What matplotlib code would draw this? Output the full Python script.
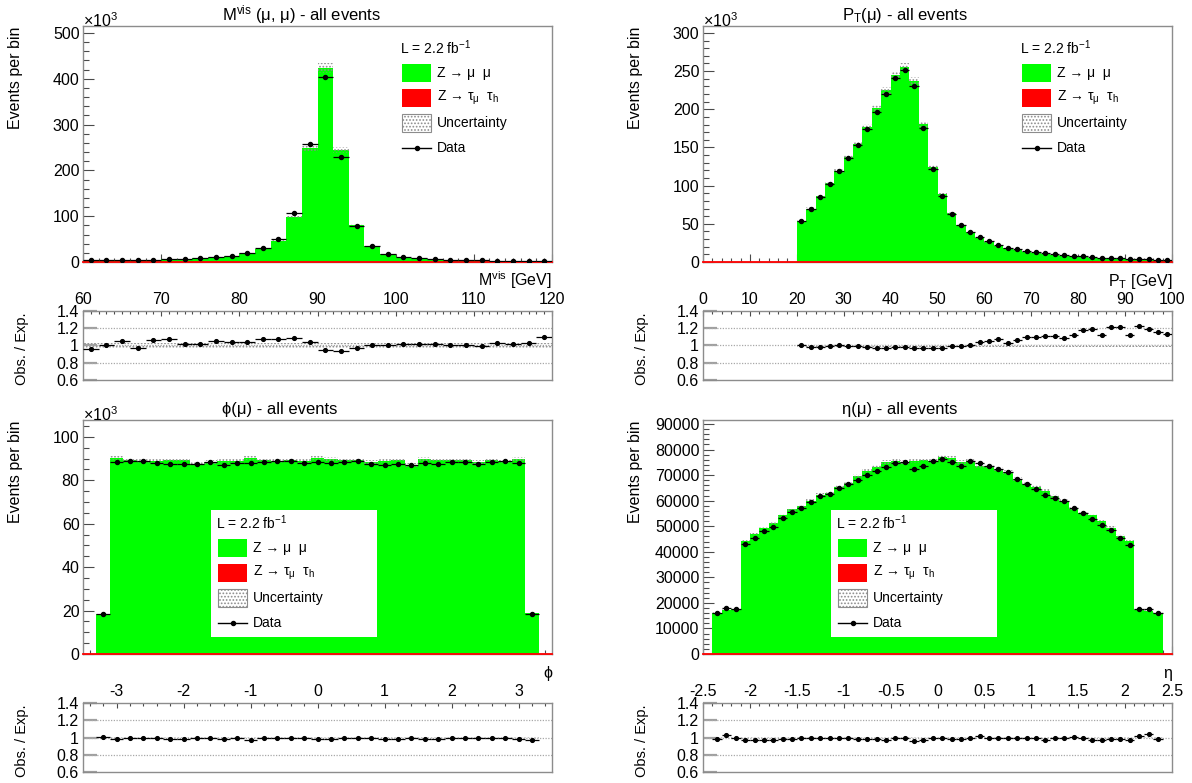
import numpy as np
import matplotlib
matplotlib.use("Agg")
import matplotlib.pyplot as plt
from matplotlib.patches import Rectangle
from matplotlib.lines import Line2D
from matplotlib.ticker import MultipleLocator, FormatStrFormatter, FuncFormatter

plt.rcParams['font.family'] = ['Liberation Sans', 'DejaVu Sans']
plt.rcParams['mathtext.fontset'] = 'custom'
plt.rcParams['mathtext.rm'] = 'Liberation Sans'
plt.rcParams['mathtext.it'] = 'Liberation Sans'
plt.rcParams['mathtext.default'] = 'regular'
plt.rcParams['hatch.color'] = '#8c8c8c'
plt.rcParams['hatch.linewidth'] = 0.8

W, H = 1192, 783

#-----Data-----#

#visible mass of the muon pair, events in thousands per 2 GeV
mass_edges = np.arange(60, 121, 2)
mass_mc = [4, 4, 5, 5, 5, 6, 6, 8, 10, 13, 19, 28, 46, 98, 248, 424, 244, 81, 34, 17,
           11, 8, 6, 5, 4, 3.5, 3, 3, 2.5, 2]
mass_data = [3.84, 4.0, 5.25, 4.85, 5.3, 6.42, 6.12, 8.16, 10.5, 13.46, 19.76, 30.24, 49.68,
             106.8, 257.9, 402.8, 228.1, 79.0, 34.0, 17.09, 11.22, 8.16, 6.12, 5.05, 4.04,
             3.47, 3.1, 3.06, 2.58, 2.2]

#muon transverse momentum, events in thousands per 2 GeV (nothing below 20 GeV)
pt_edges = np.arange(20, 101, 2)
pt_mc = [54, 70, 86, 103, 119, 137, 155, 177, 201, 225, 245, 255.5, 237, 181, 124.5, 89, 64,
         49, 39, 31, 25.8, 21, 18.3, 16.2, 13.5, 11.8, 10.9, 9.6, 8.3, 7.4, 6.6, 5.7, 5.2,
         4.8, 4.4, 3.9, 3.5, 3.1, 2.8, 2.5]
pt_data = [54.0, 68.95, 84.7, 102.0, 119.0, 135.6, 153.5, 174.3, 196.0, 219.4, 241.3, 251.7,
           229.9, 175.6, 121.4, 86.3, 63.4, 48.8, 39.4, 32.1, 27.1, 22.7, 18.8, 17.3, 14.9,
           12.9, 12.1, 10.7, 9.05, 8.29, 7.82, 6.81, 5.85, 5.83, 5.35, 4.37, 4.31, 3.69,
           3.25, 2.83]

#muon azimuth, events in thousands per 0.2
phi_edges = np.linspace(-3.3, 3.3, 34)
phi_mc = [18.2, 90.2, 89.6, 89.0, 88.8, 89.2, 89.5, 87.4, 88.4, 88.9, 88.8, 90.2, 89.3, 89.0,
          89.6, 88.8, 90.2, 90.0, 89.3, 89.6, 88.3, 88.9, 89.5, 87.0, 90.0, 89.2, 89.3, 89.3,
          88.3, 89.3, 88.7, 90.0, 18.9]
phi_data = [18.4, 88.4, 88.7, 89.0, 87.9, 87.4, 87.7, 87.4, 88.4, 87.1, 87.9, 87.9, 88.4, 89.0,
            88.7, 87.9, 88.4, 88.2, 88.4, 88.7, 87.4, 87.1, 87.7, 87.0, 88.2, 87.4, 88.4,
            88.4, 87.4, 88.4, 88.7, 88.2, 18.4]

#muon pseudorapidity, events per 0.1
eta_edges = np.linspace(-2.4, 2.4, 49)
eta_mc = [16100, 17400, 17600, 44300, 46800, 49300, 51300, 54300, 56700, 57900, 59900, 62300,
          63100, 65400, 66900, 69600, 71600, 73100, 75100, 75500, 75000, 75500, 76000, 75600,
          77000, 76800, 75200, 75400, 73600, 73700, 72400, 71100, 68500, 66600, 65300, 63800,
          61800, 59900, 56800, 55000, 54400, 51900, 49400, 46300, 44100, 17300, 16900, 16200]
eta_data = [15900, 17900, 17600, 43000, 45400, 48100, 49800, 53200, 55600, 57300, 59600, 61700,
            62500, 65100, 66600, 68200, 70200, 71600, 73200, 74700, 75000, 72500, 73700, 75600,
            76200, 75300, 73700, 75400, 74700, 73700, 72400, 71100, 68500, 66600, 64600, 62200,
            61200, 59900, 57100, 55000, 53000, 50600, 48400, 45400, 42800, 17600, 17600, 16000]

legend_labels = ["Z \u2192 \u03bc  \u03bc", "Z \u2192 \u03c4$_{\u03bc}$  \u03c4$_{h}$", "Uncertainty", "Data"]
lumi_label = "L = 2.2 fb$^{-1}$"

#--/--Data--/--#

FRAME = '#8c8c8c'
TICK = '#4a4a4a'
GREEN = '#00ff00'
FS = 11.5
MS = 2.9

#Pixel helpers (top-left origin) -> figure fraction
def FX(x):
    return x / W

def FY(y):
    return 1 - y / H

def Rect(x0, y0, x1, y1):
    return [FX(x0), FY(y1), (x1 - x0) / W, (y1 - y0) / H]

def TrimLabel(v, p):
    return '%g' % (round(v, 2) + 0.0)

#Stacked expectation with uncertainty band and data points
def DrawMain(ax, edges, mc, data, unc, xlim, ymax, ymaj, ymin, xmaj, xmin, yfmt):
    mc = np.asarray(mc, float)
    data = np.asarray(data, float)
    centers = 0.5 * (edges[1:] + edges[:-1])
    halfw = 0.5 * np.diff(edges)
    ax.set_axisbelow(True)
    ax.stairs(mc, edges, fill=True, color=GREEN, lw=0, zorder=1)
    ax.stairs(mc * (1 + unc), edges, baseline=mc * (1 - unc), fill=True, facecolor='none',
              edgecolor='#8c8c8c', hatch='.....', lw=0, zorder=2)
    ax.axhline(0, color='red', lw=1.3, zorder=3, clip_on=False)
    ax.errorbar(centers, data, xerr=halfw, fmt='o', ms=MS, color='black', elinewidth=0.9,
                capsize=0, zorder=4)
    ax.set_xlim(xlim)
    ax.set_ylim(0, ymax)
    ax.yaxis.set_major_locator(MultipleLocator(ymaj))
    ax.yaxis.set_minor_locator(MultipleLocator(ymin))
    ax.yaxis.set_major_formatter(FormatStrFormatter(yfmt))
    ax.xaxis.set_major_locator(MultipleLocator(xmaj))
    ax.xaxis.set_minor_locator(MultipleLocator(xmin))
    ax.tick_params(axis='both', which='both', direction='in', color=TICK, width=0.8,
                   labelsize=FS, pad=2.5)
    ax.tick_params(axis='y', which='major', length=8)
    ax.tick_params(axis='y', which='minor', length=4.5)
    ax.tick_params(axis='x', which='major', length=5.5, labelbottom=False)
    ax.tick_params(axis='x', which='minor', length=3)
    for s in ax.spines.values():
        s.set_color(FRAME)
        s.set_linewidth(1)

#Observed over expected with the relative uncertainty band
def DrawRatio(ax, edges, mc, data, unc, xlim, xmaj, xmin):
    mc = np.asarray(mc, float)
    data = np.asarray(data, float)
    centers = 0.5 * (edges[1:] + edges[:-1])
    halfw = 0.5 * np.diff(edges)
    ones = np.ones(len(mc))
    ax.set_axisbelow(True)
    ax.stairs(ones * (1 + unc), edges, baseline=ones * (1 - unc), fill=True, facecolor='none',
              edgecolor='#8c8c8c', hatch='.....', lw=0, zorder=1)
    for y in (0.8, 1.0, 1.2):
        ax.axhline(y, color='#a8a8a8', lw=0.9, ls=(0, (1, 1.2)), zorder=0.8)
    ax.errorbar(centers, data / mc, xerr=halfw, fmt='o', ms=MS - 0.2, color='black',
                elinewidth=0.9, capsize=0, zorder=4)
    ax.set_xlim(xlim)
    ax.set_ylim(0.6, 1.4)
    ax.yaxis.set_major_locator(MultipleLocator(0.2))
    ax.yaxis.set_major_formatter(FuncFormatter(TrimLabel))
    ax.xaxis.set_major_locator(MultipleLocator(xmaj))
    ax.xaxis.set_minor_locator(MultipleLocator(xmin))
    ax.xaxis.set_major_formatter(FuncFormatter(TrimLabel))
    ax.xaxis.tick_top()
    ax.tick_params(axis='both', which='both', direction='in', labelsize=FS)
    ax.tick_params(axis='x', which='major', length=3.5, width=0.8, color=TICK, pad=3)
    ax.tick_params(axis='x', which='minor', length=2, width=0.8, color=TICK)
    ax.tick_params(axis='y', which='major', length=10, width=1.6, color='#a0a0a0', pad=3)
    for s in ax.spines.values():
        s.set_color(FRAME)
        s.set_linewidth(1)

#Legend drawn in figure pixels, header at (hx, hy)
def DrawLegend(fig, hx, hy, boxed):
    if boxed:
        fig.add_artist(Rectangle((FX(hx - 5), FY(hy + 114)), 166 / W, 127 / H,
                                 transform=fig.transFigure, facecolor='white',
                                 edgecolor='none', zorder=5))
    fig.text(FX(hx), FY(hy), lumi_label, fontsize=10, ha='left', va='center', zorder=6)
    sx0, sx1 = hx + 2, hx + 31
    tx = hx + 37
    rows = [hy + 25, hy + 50, hy + 75, hy + 100]
    fills = [dict(facecolor=GREEN, edgecolor='none'),
             dict(facecolor='red', edgecolor='none'),
             dict(facecolor='white', edgecolor='#8c8c8c', hatch='.....', lw=0.8)]
    for y, style in zip(rows[:3], fills):
        fig.add_artist(Rectangle((FX(sx0), FY(y + 9)), (sx1 - sx0) / W, 18 / H,
                                 transform=fig.transFigure, zorder=6, **style))
    y = rows[3]
    fig.add_artist(Line2D([FX(sx0), FX(sx1)], [FY(y), FY(y)], transform=fig.transFigure,
                          color='black', lw=1, zorder=6))
    fig.add_artist(Line2D([FX(0.5 * (sx0 + sx1))], [FY(y)], transform=fig.transFigure,
                          marker='o', ms=MS, color='black', zorder=7))
    for y, lab in zip(rows, legend_labels):
        fig.text(FX(tx), FY(y), lab, fontsize=10, ha='left', va='center', zorder=6)

fig = plt.figure(figsize=(W / 100, H / 100), dpi=100)

#Column left edges and row geometry in pixels
cols = [83, 703]
width = 469
rows = [dict(top=26, bottom=262, rtop=311, rbottom=380),
        dict(top=420, bottom=654, rtop=703, rbottom=772)]

panels = [
    dict(row=0, col=0, edges=mass_edges, mc=mass_mc, data=mass_data, unc=0.025, xlim=(60, 120),
         ymax=515, ymaj=100, ymin=20, xmaj=10, xmin=1, yfmt='%d', scale=True,
         title="M$^{vis}$ (\u03bc, \u03bc) - all events", xtitle="M$^{vis}$ [GeV]"),
    dict(row=0, col=1, edges=pt_edges, mc=pt_mc, data=pt_data, unc=0.02, xlim=(0, 100),
         ymax=309, ymaj=50, ymin=10, xmaj=10, xmin=2, yfmt='%d', scale=True,
         title="P$_{T}$(\u03bc) - all events", xtitle="P$_{T}$ [GeV]"),
    dict(row=1, col=0, edges=phi_edges, mc=phi_mc, data=phi_data, unc=0.01, xlim=(-3.5, 3.5),
         ymax=107.8, ymaj=20, ymin=5, xmaj=1, xmin=0.2, yfmt='%d', scale=True,
         title="\u03d5(\u03bc) - all events", xtitle="\u03d5"),
    dict(row=1, col=1, edges=eta_edges, mc=eta_mc, data=eta_data, unc=0.01, xlim=(-2.5, 2.5),
         ymax=91560, ymaj=10000, ymin=2000, xmaj=0.5, xmin=0.1, yfmt='%d', scale=False,
         title="\u03b7(\u03bc) - all events", xtitle="\u03b7"),
]

for p in panels:
    r = rows[p['row']]
    x0 = cols[p['col']]
    x1 = x0 + width
    ax = fig.add_axes(Rect(x0, r['top'], x1, r['bottom']))
    DrawMain(ax, p['edges'], p['mc'], p['data'], p['unc'], p['xlim'], p['ymax'],
             p['ymaj'], p['ymin'], p['xmaj'], p['xmin'], p['yfmt'])
    rax = fig.add_axes(Rect(x0, r['rtop'], x1, r['rbottom']))
    DrawRatio(rax, p['edges'], p['mc'], p['data'], p['unc'], p['xlim'], p['xmaj'], p['xmin'])

    fig.text(FX(x0 + 139), FY(r['top'] - 6), p['title'], fontsize=12, ha='left', va='baseline')
    fig.text(FX(x1), FY(r['bottom'] + 24), p['xtitle'], fontsize=FS, ha='right', va='baseline')
    if p['scale']:
        fig.text(FX(x0), FY(r['top'] + 1), "\u00d710$^{3}$", fontsize=FS, ha='left', va='baseline')
    fig.text(FX(x0 - 67), FY(r['top'] + 1), "Events per bin", fontsize=FS, rotation=90,
             ha='center', va='top')
    fig.text(FX(x0 - 61), FY(0.5 * (r['rtop'] + r['rbottom']) + 3), "Obs. / Exp.",
             fontsize=10.5, rotation=90, ha='center', va='center')

    if p['row'] == 0:
        DrawLegend(fig, x0 + 317, 48, False)
    else:
        DrawLegend(fig, x0 + 133, 523, True)

fig.savefig("out.png", dpi=100)
